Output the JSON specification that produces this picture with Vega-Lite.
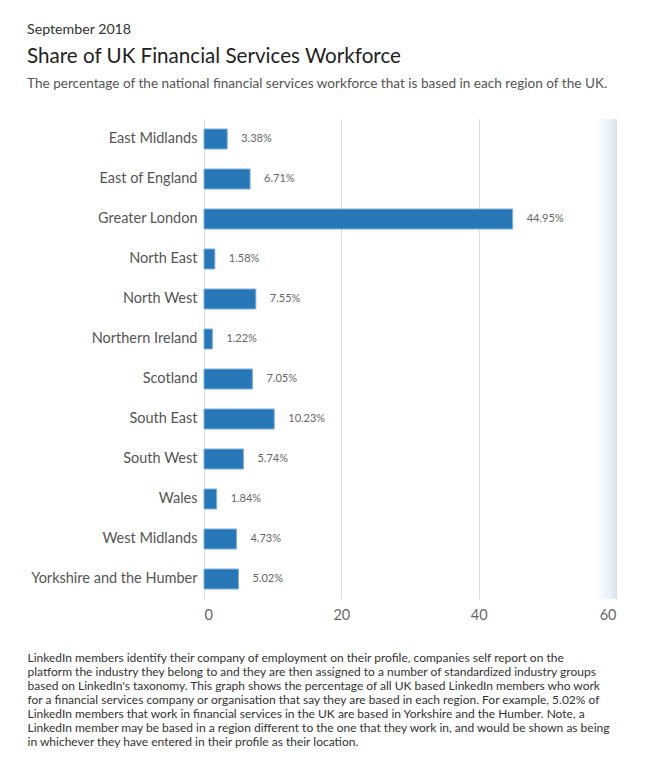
{
  "$schema": "https://vega.github.io/schema/vega-lite/v6.json",
  "background": "white",
  "padding": {"left": 27, "top": 22, "right": 20, "bottom": 10},
  "title": {
    "text": "September 2018",
    "anchor": "start",
    "frame": "bounds",
    "fontSize": 14.2,
    "fontWeight": "normal",
    "color": "#333333",
    "offset": 10
  },
  "vconcat": [
    {
      "width": 412,
      "height": 480,
      "title": {
        "text": "Share of UK Financial Services Workforce",
        "subtitle": "The percentage of the national financial services workforce that is based in each region of the UK.",
        "anchor": "start",
        "frame": "bounds",
        "fontSize": 20.6,
        "fontWeight": "normal",
        "color": "#222222",
        "subtitleFontSize": 13.6,
        "subtitleColor": "#555555",
        "subtitlePadding": 10,
        "offset": 28
      },
      "data": {
        "values": [
          {"region": "East Midlands", "value": 3.38},
          {"region": "East of England", "value": 6.71},
          {"region": "Greater London", "value": 44.95},
          {"region": "North East", "value": 1.58},
          {"region": "North West", "value": 7.55},
          {"region": "Northern Ireland", "value": 1.22},
          {"region": "Scotland", "value": 7.05},
          {"region": "South East", "value": 10.23},
          {"region": "South West", "value": 5.74},
          {"region": "Wales", "value": 1.84},
          {"region": "West Midlands", "value": 4.73},
          {"region": "Yorkshire and the Humber", "value": 5.02}
        ]
      },
      "encoding": {
        "x": {
          "field": "value",
          "type": "quantitative",
          "scale": {"domain": [0, 60]},
          "axis": {
            "values": [0, 20, 40, 60],
            "domain": false,
            "ticks": false,
            "gridColor": "#dddddd",
            "labelFontSize": 14.5,
            "labelColor": "#666666",
            "labelPadding": 9,
            "title": [
              "LinkedIn members identify their company of employment on their profile, companies self report on the",
              "platform the industry they belong to and they are then assigned to a number of standardized industry groups",
              "based on LinkedIn's taxonomy. This graph shows the percentage of all UK based LinkedIn members who work",
              "for a financial services company or organisation that say they are based in each region. For example, 5.02% of",
              "LinkedIn members that work in financial services in the UK are based in Yorkshire and the Humber. Note, a",
              "LinkedIn member may be based in a region different to the one that they work in, and would be shown as being",
              "in whichever they have entered in their profile as their location."
            ],
            "titleAnchor": "start",
            "titleAlign": "left",
            "titleBaseline": "top",
            "titleX": -177,
            "titleY": 53,
            "titleFontSize": 12,
            "titleFontWeight": "normal",
            "titleColor": "#333333",
            "titleLineHeight": 14
          }
        }
      },
      "layer": [
        {
          "data": {"values": [{"from": 56, "to": 60}]},
          "mark": {
            "type": "rect",
            "color": {
              "gradient": "linear",
              "x1": 0,
              "x2": 1,
              "y1": 0,
              "y2": 0,
              "stops": [
                {"offset": 0, "color": "rgba(255,255,255,0)"},
                {"offset": 1, "color": "#dae6f3"}
              ]
            }
          },
          "encoding": {
            "x": {"field": "from", "type": "quantitative"},
            "x2": {"field": "to"}
          }
        },
        {
          "mark": {"type": "bar", "color": "#2878b8", "stroke": "#7fb0dc", "strokeWidth": 1},
          "encoding": {
            "y": {
              "field": "region",
              "type": "nominal",
              "sort": null,
              "scale": {"paddingInner": 0.5, "paddingOuter": 0.25},
              "axis": {
                "title": null,
                "domain": false,
                "ticks": false,
                "labelFontSize": 14.5,
                "labelColor": "#555555",
                "labelPadding": 7
              }
            }
          }
        },
        {
          "transform": [
            {"calculate": "format(datum.value, '.2f') + '%'", "as": "label"}
          ],
          "mark": {"type": "text", "align": "left", "dx": 14, "fontSize": 11, "color": "#666666"},
          "encoding": {
            "y": {"field": "region", "type": "nominal", "sort": null},
            "text": {"field": "label"}
          }
        }
      ]
    }
  ],
  "config": {
    "font": "Lato",
    "view": {"stroke": null}
  }
}
